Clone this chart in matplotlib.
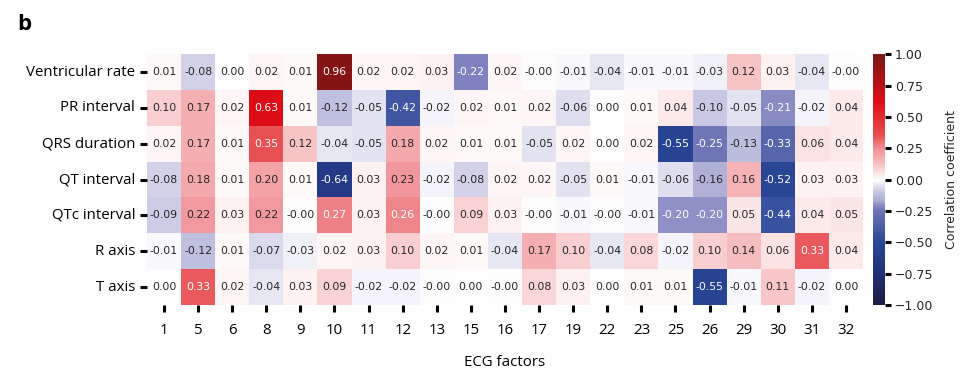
import numpy as np
import matplotlib
matplotlib.use("Agg")
import matplotlib.pyplot as plt
import seaborn as sns
from matplotlib.colors import LinearSegmentedColormap

rows = ["Ventricular rate", "PR interval", "QRS duration", "QT interval",
        "QTc interval", "R axis", "T axis"]
factors = [1, 5, 6, 8, 9, 10, 11, 12, 13, 15, 16, 17, 19, 22, 23, 25, 26, 29, 30, 31, 32]

vent_rate = [0.01, -0.08, 0.00, 0.02, 0.01, 0.96, 0.02, 0.02, 0.03, -0.22, 0.02,
             -0.001, -0.01, -0.04, -0.01, -0.01, -0.03, 0.12, 0.03, -0.04, -0.001]
pr_int = [0.10, 0.17, 0.02, 0.63, 0.01, -0.12, -0.05, -0.42, -0.02, 0.02, 0.01,
          0.02, -0.06, 0.00, 0.01, 0.04, -0.10, -0.05, -0.21, -0.02, 0.04]
qrs_dur = [0.02, 0.17, 0.01, 0.35, 0.12, -0.04, -0.05, 0.18, 0.02, 0.01, 0.01,
           -0.05, 0.02, 0.00, 0.02, -0.55, -0.25, -0.13, -0.33, 0.06, 0.04]
qt_int = [-0.08, 0.18, 0.01, 0.20, 0.01, -0.64, 0.03, 0.23, -0.02, -0.08, 0.02,
          0.02, -0.05, 0.01, -0.01, -0.06, -0.16, 0.16, -0.52, 0.03, 0.03]
qtc_int = [-0.09, 0.22, 0.03, 0.22, -0.001, 0.27, 0.03, 0.26, -0.001, 0.09, 0.03,
           -0.001, -0.01, -0.001, -0.01, -0.20, -0.20, 0.05, -0.44, 0.04, 0.05]
r_axis = [-0.01, -0.12, 0.01, -0.07, -0.03, 0.02, 0.03, 0.10, 0.02, 0.01, -0.04,
          0.17, 0.10, -0.04, 0.08, -0.02, 0.10, 0.14, 0.06, 0.33, 0.04]
t_axis = [0.00, 0.33, 0.02, -0.04, 0.03, 0.09, -0.02, -0.02, -0.001, 0.00, -0.001,
          0.08, 0.03, 0.00, 0.01, 0.01, -0.55, -0.01, 0.11, -0.02, 0.00]

data = np.array([vent_rate, pr_int, qrs_dur, qt_int, qtc_int, r_axis, t_axis])

# colour anchors (value -> colour)
anchors = [(-1.0, "#1c1c40"), (-0.75, "#1f2f78"), (-0.5, "#2a4898"),
           (-0.25, "#6e73b5"), (-0.2, "#8e90c6"), (-0.17, "#acacd5"),
           (-0.1, "#c8c7e3"), (0.0, "#ffffff"),
           (0.1, "#f8cdcf"), (0.2, "#f3a2a6"), (0.24, "#f0939a"),
           (0.35, "#e84f52"), (0.62, "#e00d17"), (1.0, "#7a1515")]
cmap = LinearSegmentedColormap.from_list(
    "ecg", [((v + 1) / 2, c) for v, c in anchors])

fig = plt.figure(figsize=(9.73, 3.71), dpi=100)
ax = fig.add_axes([0.151, 0.178, 0.736, 0.676])
cax = fig.add_axes([0.897, 0.178, 0.0123, 0.676])

sns.heatmap(data, ax=ax, cbar_ax=cax, cmap=cmap, vmin=-1, vmax=1,
            annot=True, fmt=".2f", annot_kws={"fontsize": 7.8},
            xticklabels=factors, yticklabels=rows)

lab_font = "Open Sans"
ax.tick_params(axis="both", length=5, width=2.2, color="black")
for t in ax.get_yticklabels():
    t.set_fontfamily(lab_font); t.set_fontsize(10.8); t.set_rotation(0)
for t in ax.get_xticklabels():
    t.set_fontfamily(lab_font); t.set_fontsize(10.8); t.set_rotation(0)
ax.tick_params(axis="x", pad=8)
ax.set_xlabel("ECG factors", fontfamily=lab_font, fontsize=10.8, labelpad=12)
ax.set_ylabel("")

cax.tick_params(length=4, width=2.2, color="black", labelsize=9, labelcolor="#262626")
cax.set_yticks([-1, -0.75, -0.5, -0.25, 0, 0.25, 0.5, 0.75, 1])
cax.set_yticklabels(["\u22121.00", "\u22120.75", "\u22120.50", "\u22120.25", "0.00",
                     "0.25", "0.50", "0.75", "1.00"])
cax.set_ylabel("Correlation coefficient", fontsize=9, color="#262626", labelpad=8)

fig.text(0.018, 0.92, "b", fontsize=16, fontweight="bold", fontfamily=lab_font)

fig.savefig("out.png", dpi=100)
